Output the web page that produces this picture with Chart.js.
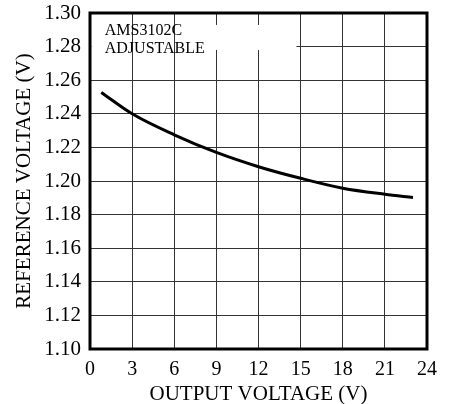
<!DOCTYPE html>
<html><head><meta charset="utf-8">
<script src="https://cdn.jsdelivr.net/npm/chart.js@4.4.1/dist/chart.umd.min.js"></script>
<style>html,body{margin:0;padding:0;background:#fff}#wrap{width:455px;height:404px}</style>
</head><body><div id="wrap"><canvas id="c" width="455" height="404"></canvas></div>
<script>
const outputVoltage = [0.8, 3, 6, 9, 12, 15, 18, 21, 23];
const referenceVoltage = [1.2527, 1.2400, 1.2275, 1.2170, 1.2085, 1.2016, 1.1957, 1.1921, 1.1902];
const xTicks = [0, 3, 6, 9, 12, 15, 18, 21, 24];
const yTicks = [1.10, 1.12, 1.14, 1.16, 1.18, 1.20, 1.22, 1.24, 1.26, 1.28, 1.30];
const noteLines = ["AMS3102C", "ADJUSTABLE"];
const FONT = "'Liberation Serif', 'Times New Roman', serif";

const boxPlugin = {
  id: 'note',
  beforeDatasetsDraw(chart) {
    const {ctx, scales: {x, y}} = chart;
    ctx.save();
    ctx.fillStyle = '#fff';
    const x0 = x.getPixelForValue(0.1), x1 = x.getPixelForValue(14.7);
    const y0 = y.getPixelForValue(1.2929), y1 = y.getPixelForValue(1.2780);
    ctx.fillRect(x0, y0, x1 - x0, y1 - y0);
    ctx.strokeStyle = '#333'; ctx.lineWidth = 1;
    [3, 6].forEach(v => {
      const px = Math.round(x.getPixelForValue(v)) + 0.5;
      ctx.beginPath(); ctx.moveTo(px, y0); ctx.lineTo(px, y1); ctx.stroke();
    });
    ctx.fillStyle = '#000';
    ctx.font = '16px ' + FONT;
    ctx.textBaseline = 'alphabetic';
    ctx.fillText(noteLines[0], x.getPixelForValue(1.05), y.getPixelForValue(1.2869));
    ctx.fillText(noteLines[1], x.getPixelForValue(1.05), y.getPixelForValue(1.2762));
    ctx.restore();
  },
  afterDatasetsDraw(chart) {
    const {ctx, chartArea: a} = chart;
    ctx.save();
    ctx.strokeStyle = '#000'; ctx.lineWidth = 3;
    ctx.strokeRect(a.left, a.top, a.right - a.left, a.bottom - a.top);
    ctx.restore();
  }
};

new Chart(document.getElementById('c'), {
  type: 'line',
  data: {
    datasets: [{
      data: outputVoltage.map((v, i) => ({x: v, y: referenceVoltage[i]})),
      borderColor: '#000', borderWidth: 3, pointRadius: 0,
      cubicInterpolationMode: 'monotone', fill: false
    }]
  },
  options: {
    responsive: false, animation: false,
    layout: {padding: {top: 13, right: 28, left: 0, bottom: 0}},
    plugins: {legend: {display: false}, tooltip: {enabled: false}},
    scales: {
      x: {
        type: 'linear', min: 0, max: 24,
        afterBuildTicks: s => { s.ticks = xTicks.map(v => ({value: v})); },
        afterFit: s => { s.height = 55; s.paddingLeft = 0; s.paddingRight = 0; },
        grid: {color: '#333', lineWidth: 1, drawTicks: false},
        border: {display: false},
        ticks: {color: '#000', font: {family: FONT, size: 20}, padding: 9, maxRotation: 0,
                callback: v => String(v)},
        title: {display: true, text: 'OUTPUT VOLTAGE (V)', color: '#000',
                font: {family: FONT, size: 21}, padding: {top: 0, bottom: -3}}
      },
      y: {
        type: 'linear', min: 1.10, max: 1.30,
        afterBuildTicks: s => { s.ticks = yTicks.map(v => ({value: v})); },
        afterFit: s => { s.width = 90; s.paddingTop = 0; s.paddingBottom = 0; },
        grid: {color: '#333', lineWidth: 1, drawTicks: false},
        border: {display: false},
        ticks: {color: '#000', font: {family: FONT, size: 21}, padding: 9,
                callback: v => Number(v).toFixed(2)},
        title: {display: true, text: 'REFERENCE VOLTAGE (V)', color: '#000',
                font: {family: FONT, size: 21}, padding: {top: 12, bottom: 2}}
      }
    }
  },
  plugins: [boxPlugin]
});
</script></body></html>
